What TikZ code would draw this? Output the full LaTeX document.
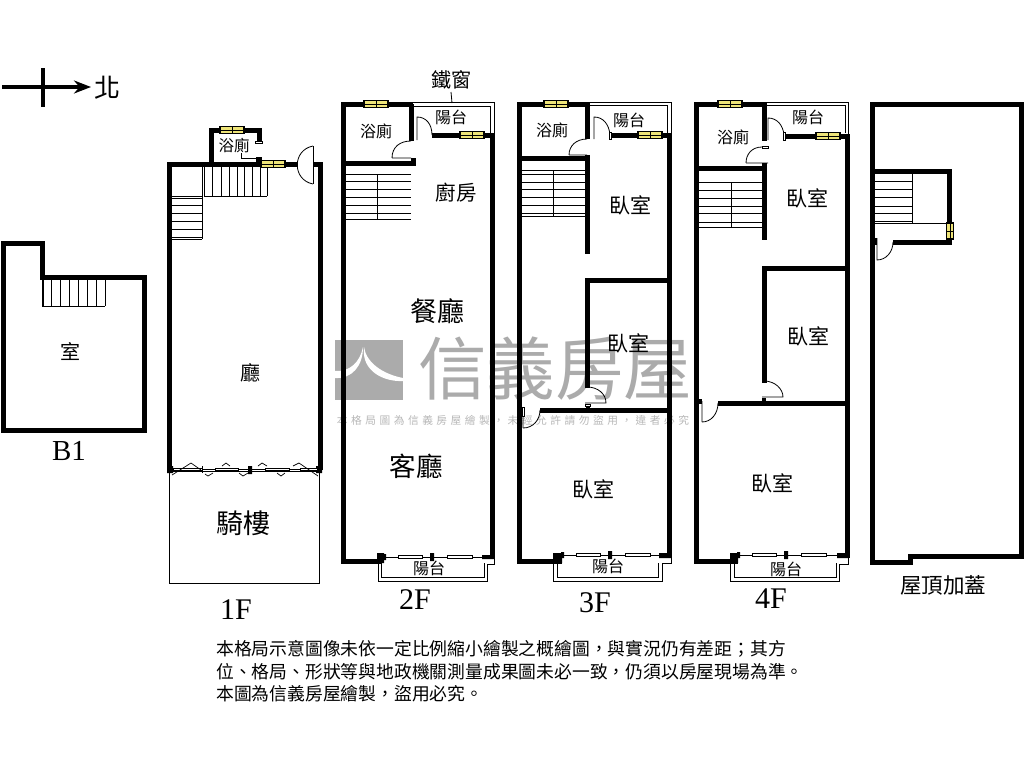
\documentclass[tikz,border=0pt]{standalone}
\usepackage{fontspec}
\setmainfont{Liberation Serif}
\newfontfamily\zh{Noto Sans CJK TC}
\newfontfamily\zhl[LetterSpace=33]{Noto Sans CJK TC}
\usetikzlibrary{arrows.meta}
\definecolor{jaune}{RGB}{238,228,120}
\newcommand{\zt}[1]{\fontsize{#1}{#1}\selectfont\zh}
\begin{document}
\begin{tikzpicture}[x=1pt,y=-1pt]
\tikzset{mur/.style={line width=5pt, line join=miter, line cap=butt},
  trait/.style={line width=0.8pt},
  marche/.style={line width=0.7pt},
  barre/.style={draw, line width=0.7pt, fill=white, minimum width=0pt, inner sep=0pt},
  salle/.style={inner sep=0pt, text=black},
  etage/.style={inner sep=0pt, font=\fontsize{30}{30}\selectfont},
  fenh/.pic={\draw[line width=1.1pt, fill=jaune] (-12,-3.5) rectangle (12,3.5);
    \draw[line width=0.8pt] (-12,0) -- (12,0) (0,-3.5) -- (0,3.5);},
  fenv/.pic={\draw[line width=1.1pt, fill=jaune] (-3.5,-8) rectangle (3.5,8);
    \draw[line width=0.8pt] (0,-8) -- (0,8) (-3.5,0) -- (3.5,0);},
  % sliding doors of the front balcony, drawn from the left block
  baie/.pic={\draw[trait] (0,0) -- (108,0);
    \fill (-1,-3) rectangle (2,3) (46,-4) rectangle (50,4);
    \draw[barre] (14,-1.3) rectangle (38,1.3);
    \draw[barre] (63,-1.3) rectangle (88,1.3);}}
\useasboundingbox (0,0) rectangle (1024,768);
\fill[white] (0,0) rectangle (1024,768);

% watermark
\fill[black!33] (335,340) rectangle (403,400);
\fill[white] (363,347) .. controls (360,362) and (350,372) .. (335,371) -- (335,378) .. controls (352,379) and (363,366) .. (363,347);
\fill[white] (364,347) .. controls (366,362) and (382,374) .. (403,378) -- (403,381) .. controls (385,382) and (361,372) .. (364,347);
\node[salle, text=black!33] (marque) at (555,369) {\zt{68.5}信義房屋};
\node[salle, text=black!28] (marque2) at (513,420) {\fontsize{10.7}{10.7}\selectfont\zhl 本格局圖為信義房屋繪製，未經允許請勿盜用，違者必究};

% north
\coordinate (N1) at (2,87);
\coordinate (N2) at (91,87);
\coordinate (N3) at (43,68);
\coordinate (N4) at (43,107);
\draw[line width=3.5pt, -{Stealth[length=17pt,width=13pt]}] (N1) -- (N2);
\draw[line width=3.5pt] (N3) -- (N4);
\node[salle] (nord) at (107,88) {\zt{26}北};

% B1
\draw[mur] (3,243) -- (42,243) -- (42,277) -- (144,277) -- (144,430) -- (3,430) -- cycle;
\foreach \x in {42,43,51,60,69,78,87,96,105} \draw[marche] (\x,279) -- (\x,306);
\draw[marche] (42,306) -- (105,306);
\node[salle] (b1room) at (70,352) {\zt{20}室};
\node[salle, font=\fontsize{29}{29}\selectfont] (b1) at (69,451) {B1};

% 1F
\draw[mur] (262,164) -- (169,164) -- (169,470);
\draw[mur] (283,164) -- (298,164);
\draw[mur] (313,164) -- (320,164) -- (320,470);
\draw[mur] (211,164) -- (211,130) -- (259,130) -- (259,141);
\draw[trait, fill=white] (255,141) rectangle (262,143);
\draw[trait] (241,153) -- (241,158) -- (258,158);
\fill (256,157) rectangle (262,162);
\path (232,130) pic {fenh} (273,164) pic {fenh};
\draw[trait] (313,146) -- (313,184);
\draw[trait] (313,146) .. controls (292,150) and (292,180) .. (313,184);
\foreach \x in {202,204,212,221,229,237,244,252,260,267} \draw[marche] (\x,167) -- (\x,196);
\draw[marche] (204,196) -- (267,196);
\foreach \y in {196,198,205,213,221,229,237,239} \draw[marche] (172,\y) -- (202,\y);
\draw[marche] (202,196) -- (202,239);
\node[salle] (wc1) at (234,146) {\zt{15.5}浴廁};
\node[salle] (hall) at (250,373) {\zt{20}廳};
% folding doors and arcade
\draw[trait] (169,471) rectangle (319,583);
\fill (167,466) rectangle (173,473) (316,466) rectangle (322,473) (248,466) rectangle (252,474);
\draw[trait] (173,469) -- (317,469) (202,466) -- (202,473);
\draw[barre] (173,468) rectangle (202,470.5) (215,468) rectangle (238,470.5) (265,468) rectangle (289,470.5) (300,468) rectangle (317,470.5);
\draw[marche] (172,475) -- (191,463) -- (201,470) (205,474) -- (208,476) -- (213,473) (222,466) -- (226,463) -- (230,466);
\draw[marche] (239,473) -- (243,476) -- (248,473) (258,466) -- (262,463) -- (267,466) (277,473) -- (281,476) -- (285,473);
\draw[marche] (293,466) -- (299,463) -- (318,476);
\node[salle] (arcade) at (243,523) {\zt{27}騎樓};
\node[etage] (f1) at (236,610) {1F};

% 2F
\draw[mur] (413,104) -- (343,104) -- (343,561) -- (382,561);
\draw[mur] (411,104) -- (411,141);
\draw[mur] (343,163) -- (413,163) -- (413,158);
\draw[mur] (432,135) -- (492,135) -- (492,558);
\draw[trait] (413,102) -- (494,102) -- (494,134) (413,106) -- (490,106) -- (490,133);
\path (376,104) pic {fenh} (472,135) pic {fenh};
\draw[trait] (392,158) -- (411,158) (392,158) .. controls (392,147) and (400,141) .. (411,141);
\draw[trait] (417,140) -- (417,117) .. controls (426,117) and (432,124) .. (432,135);
\foreach \y in {174,181,189,197,205,213,219} \draw[marche] (345,\y) -- (411,\y);
\draw[marche] (377,174) -- (377,219);
\node[salle] (grille) at (451,80) {\zt{20}鐵窗};
\coordinate (G1) at (452,103);
\draw[trait] (grille) ++(0,12) -- (G1);
\node[salle] (wc2) at (376,131) {\zt{16}浴廁};
\node[salle] (bal2) at (451,117) {\zt{16}陽台};
\node[salle] (cuisine) at (456,193) {\zt{20.5}廚房};
\node[salle] (repas) at (437,311) {\zt{27}餐廳};
\node[salle] (salon) at (416,466) {\zt{26.5}客廳};
\path (384,557) pic {baie};
\fill (377,553) rectangle (384,563) (482,555) rectangle (494,559);
\draw[trait] (378,553) -- (378,581) -- (487,581) -- (487,564) -- (494,564) -- (494,558);
\draw[trait] (381,562) -- (381,577) -- (484,577) -- (484,563);
\node[salle] (balb2) at (429,568) {\zt{16}陽台};
\node[etage] (f2) at (415,600) {2F};

% 3F
\draw[mur] (590,104) -- (519,104) -- (519,561) -- (562,561);
\draw[mur] (587.5,104) -- (587.5,139);
\draw[mur] (519,158) -- (590,158);
\draw[mur] (587.5,155) -- (587.5,254);
\draw[mur] (587,280) -- (669,280);
\draw[mur] (587.5,278) -- (587.5,388);
\draw[mur] (540,410) -- (669,410);
\draw[mur] (612,135) -- (669,135) -- (669,558);
\draw[trait] (590,102) -- (671,102) -- (671,134) (590,105) -- (667,105) -- (667,133);
\path (556,104) pic {fenh} (650,135) pic {fenh};
\draw[trait] (569,155) -- (587,155) (569,155) .. controls (569,146) and (576,139) .. (587,139);
\draw[trait] (594,139) -- (594,117) .. controls (603,117) and (609,124) .. (610,135);
\draw[barre] (609,132) rectangle (611,139);
\foreach \y in {170,174,182,189,197,205,213,216} \draw[marche] (521,\y) -- (585,\y);
\draw[marche] (553,170) -- (553,216);
\fill (585.5,405) rectangle (589.5,409);
\draw[trait] (585,403) -- (606,403) .. controls (606,394) and (598,387) .. (587,387);
\draw[barre] (585,404) rectangle (590,406);
\draw[trait] (523,428) -- (523,408) (523,428) .. controls (533,428) and (540,420) .. (540,410);
\draw[barre] (522,407) rectangle (524.5,416);
\node[salle] (wc3) at (552,130) {\zt{16}浴廁};
\node[salle] (bal3) at (629,120) {\zt{16}陽台};
\node[salle] (ch3a) at (630,205) {\zt{21}臥室};
\node[salle] (ch3b) at (628,343) {\zt{21}臥室};
\node[salle] (ch3c) at (593,489) {\zt{21}臥室};
\path (562,555) pic {baie};
\fill (553,553) rectangle (562,563) (659,553) rectangle (671,558);
\draw[trait] (553,562) -- (553,581) -- (662,581) -- (662,563) -- (671,563) -- (671,558);
\draw[trait] (557,563) -- (557,577) -- (658,577) -- (658,563);
\node[salle] (balb3) at (608,566) {\zt{16}陽台};
\node[etage] (f3) at (595,603) {3F};

% 4F
\draw[mur] (767,104) -- (696,104) -- (696,561) -- (738,561);
\draw[mur] (764,104) -- (764,141);
\draw[mur] (696,168) -- (766,168);
\draw[mur] (764,163) -- (764,240);
\draw[mur] (764,268) -- (847,268);
\draw[mur] (764,266) -- (764,383);
\draw[mur] (718,403) -- (847,403);
\draw[mur] (786,136) -- (847,136) -- (847,558);
\draw[trait] (767,102) -- (848,102) -- (848,134) (767,105) -- (845,105) -- (845,133);
\path (730,104) pic {fenh} (828,136) pic {fenh};
\draw[barre] (762,146) rectangle (768,148);
\draw[trait] (746,163) -- (768,163) (746,163) .. controls (746,154) and (752,147) .. (762,147);
\draw[trait] (768,140) -- (768,118) .. controls (777,118) and (783,125) .. (784,135);
\draw[barre] (783.5,132) rectangle (785.5,140);
\foreach \y in {182,190,198,206,213,222,227} \draw[marche] (698,\y) -- (762,\y);
\draw[marche] (731,182) -- (731,227);
\draw[trait] (762,397) -- (783,397) .. controls (783,389) and (775,381) .. (764,381);
\fill (762,398) rectangle (766,403);
\draw[trait] (702,422) -- (702,401) (702,422) .. controls (711,422) and (718,414) .. (718,403);
\fill (698,399) rectangle (702,404);
\node[salle] (wc4) at (733,137) {\zt{16}浴廁};
\node[salle] (bal4) at (808,117) {\zt{16}陽台};
\node[salle] (ch4a) at (807,198) {\zt{21}臥室};
\node[salle] (ch4b) at (808,336) {\zt{21}臥室};
\node[salle] (ch4c) at (772,483) {\zt{21}臥室};
\path (738,555) pic {baie};
\fill (730,553) rectangle (738,563) (837,553) rectangle (848,558);
\draw[trait] (730,562) -- (730,581) -- (839,581) -- (839,564) -- (848,564) -- (848,558);
\draw[trait] (734,563) -- (734,577) -- (836,577) -- (836,563);
\node[salle] (balb4) at (786,569) {\zt{16}陽台};
\node[etage] (f4) at (771,599) {4F};

% roof
\draw[mur] (872,104) -- (1021,104) -- (1021,556) -- (910,556) -- (910,562.5) -- (872,562.5) -- cycle;
\draw[mur] (873,171) -- (949,171) -- (949,242) -- (893,242);
\path (950,231) pic {fenv};
\fill (872,238) rectangle (877,245);
\draw[trait] (874,223) -- (946,223);
\foreach \y in {181,189,197,206,213,221} \draw[marche] (874,\y) -- (912,\y);
\draw[marche] (912,173) -- (912,223);
\draw[trait] (877,238) -- (877,260) .. controls (886,260) and (893,252) .. (893,242);
\node[salle] (toit) at (943,585) {\zt{21.5}屋頂加蓋};

% note
\node[salle, anchor=north west, align=left, font=\fontsize{17.8}{22.5}\selectfont\zh] (note) at (216,640.5) {本格局示意圖像未依一定比例縮小繪製之概繪圖，與實況仍有差距；其方\\
位、格局、形狀等與地政機關測量成果圖未必一致，仍須以房屋現場為準。\\
本圖為信義房屋繪製，盜用必究。};
\end{tikzpicture}
\end{document}
